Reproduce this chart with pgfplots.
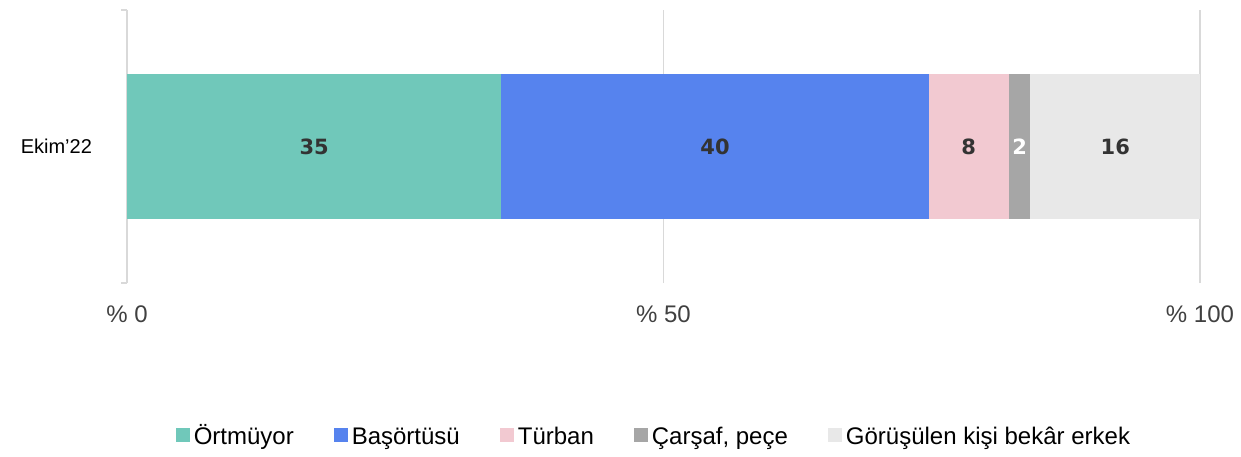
\documentclass[border=0pt]{standalone}
\usepackage{fontspec}
\setmainfont{Liberation Sans}
\newfontfamily\heavyfont{DejaVu Sans}
\usepackage{pgfplots}
\pgfplotsset{compat=1.18}

\definecolor{cOrt}{HTML}{70C8BA}
\definecolor{cBas}{HTML}{5683EE}
\definecolor{cTur}{HTML}{F2C9D1}
\definecolor{cCar}{HTML}{A6A6A6}
\definecolor{cGor}{HTML}{E8E8E8}
\definecolor{gridc}{HTML}{D9D9D9}
\definecolor{txt}{HTML}{333333}

\begin{document}
\begin{tikzpicture}
\useasboundingbox (0,0) rectangle (620.5pt,228pt);
\begin{axis}[
    at={(63.5pt,86.5pt)}, anchor=south west,
    scale only axis, width=536.5pt, height=136.5pt,
    xbar stacked, bar width=72.5pt,
    xmin=0, xmax=100, ymin=-1, ymax=1,
    clip=false,
    axis line style={draw=none},
    major tick length=0pt,
    xtick={0,50,100},
    xticklabel={\% \pgfmathprintnumber{\tick}},
    /pgf/number format/assume math mode=true,
    xticklabel style={font=\fontsize{12}{14}\selectfont, text=black!75, yshift=-8pt},
    ytick={0}, yticklabels={Ekim’22},
    yticklabel style={font=\fontsize{10}{12}\selectfont, text=black, xshift=-14pt},
    xmajorgrids, grid style={draw=gridc, line width=0.75pt},
    point meta=explicit symbolic,
    nodes near coords,
    every node near coord/.append style={font=\heavyfont\bfseries\fontsize{10.5}{12}\selectfont, text=txt},
    legend columns=-1,
    legend style={at={(0.492,-0.557)}, anchor=center, draw=none,
        font=\fontsize{12}{14}\selectfont,
        nodes={text height=2.3ex, text depth=0.5ex},
        /tikz/every even column/.append style={column sep=18pt}},
    legend image code/.code={\fill[#1] (0pt,-3.5pt) rectangle (7pt,3.5pt);},
]
\addplot+[fill=cOrt, draw=none] coordinates {(34.9,0) [35]};
\addplot+[fill=cBas, draw=none] coordinates {(39.8,0) [40]};
\addplot+[fill=cTur, draw=none] coordinates {(7.5,0) [8]};
\addplot+[fill=cCar, draw=none, every node near coord/.append style={text=white}] coordinates {(2.0,0) [2]};
\addplot+[fill=cGor, draw=none] coordinates {(15.8,0) [16]};
\legend{Örtmüyor, Başörtüsü, Türban, {Çarşaf, peçe}, Görüşülen kişi bekâr erkek}
\draw[gridc, line width=0.75pt] (rel axis cs:0,1) -- ([xshift=-3pt]rel axis cs:0,1);
\draw[gridc, line width=0.75pt] (rel axis cs:0,0) -- ([xshift=-3pt]rel axis cs:0,0);
\end{axis}
\end{tikzpicture}
\end{document}
